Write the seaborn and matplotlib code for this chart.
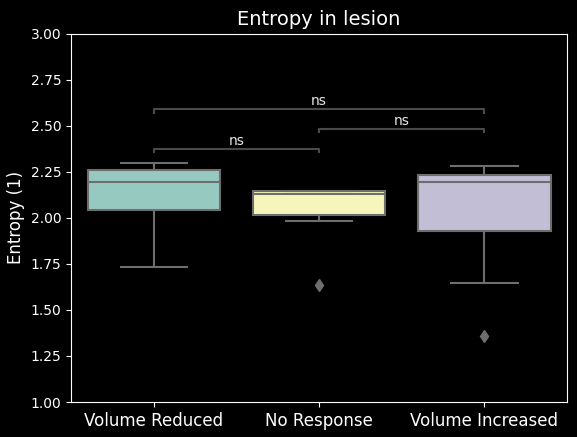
import matplotlib
matplotlib.use('Agg')
import matplotlib.pyplot as plt
import seaborn as sns
import pandas as pd

groups = ['Volume Reduced', 'No Response', 'Volume Increased']
vol_reduced = [1.734, 2.040, 2.196, 2.261, 2.299]
no_response = [1.636, 1.985, 2.018, 2.05, 2.130, 2.14, 2.145, 2.145, 2.145]
vol_increased = [1.359, 1.648, 1.931, 2.10, 2.192, 2.21, 2.234, 2.26, 2.284]

# pairwise comparisons: (group a, group b, bracket height, label)
pairs = [(0, 1, 2.375, 'ns'), (1, 2, 2.485, 'ns'), (0, 2, 2.59, 'ns')]

df = pd.DataFrame({
    'group': [groups[0]] * len(vol_reduced) + [groups[1]] * len(no_response) + [groups[2]] * len(vol_increased),
    'entropy': vol_reduced + no_response + vol_increased,
})

plt.style.use('dark_background')
fig, ax = plt.subplots(figsize=(5.77, 4.37), dpi=100)
fig.subplots_adjust(left=0.123, right=0.983, top=0.923, bottom=0.080)

sns.boxplot(data=df, x='group', y='entropy', order=groups, hue='group', palette='Set3',
            legend=False, linecolor='#6e6e6e', linewidth=1.5, ax=ax,
            flierprops=dict(marker='d', markerfacecolor='#6e6e6e', markeredgecolor='#6e6e6e', markersize=6))

tip = 0.02
for a, b, h, lab in pairs:
    ax.plot([a, a, b, b], [h - tip, h, h, h - tip], color='#4a4a4a', lw=1.5)
    ax.text((a + b) / 2, h + 0.005, lab, ha='center', va='bottom', color='#e6e6e6', fontsize=10)

ax.set_xlim(-0.5, 2.5)
ax.set_ylim(1.0, 3.0)
ax.set_yticks([1.0, 1.25, 1.5, 1.75, 2.0, 2.25, 2.5, 2.75, 3.0])
ax.set_title('Entropy in lesion', fontsize=14)
ax.set_ylabel('Entropy (1)', fontsize=12)
ax.set_xlabel('')
ax.tick_params(axis='x', labelsize=12)

fig.savefig('out.png', dpi=100)
